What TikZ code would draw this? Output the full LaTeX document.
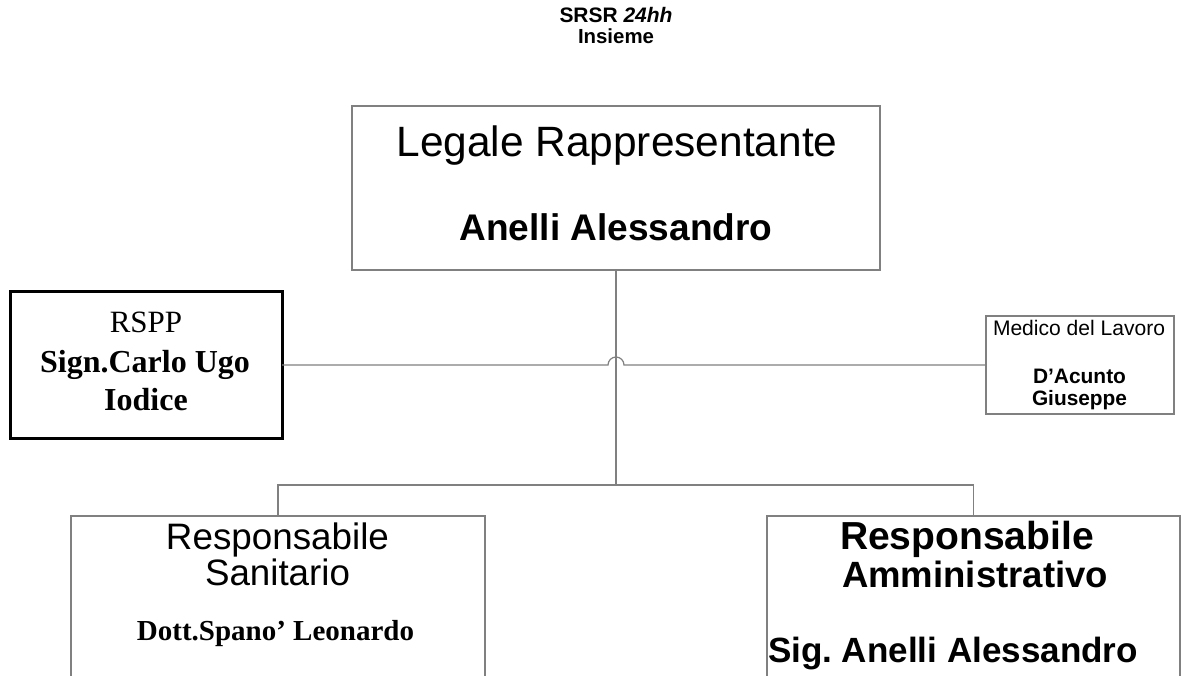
\documentclass[tikz,border=0pt]{standalone}
\usepackage{fontspec}
\usepackage{graphicx}
\setmainfont{Liberation Serif}
\setsansfont{Liberation Sans}
\frenchspacing
\newcommand\fw[3]{\resizebox{#1pt}{!}{\fontsize{#2}{#2}\selectfont #3}}
\newcommand\fs[2]{{\fontsize{#1}{#1}\selectfont #2}}
\definecolor{linegray}{RGB}{128,128,128}
\tikzset{
  box/.style={draw=linegray, line width=1.2pt, inner sep=0pt, outer sep=0pt, anchor=north west},
  boldbox/.style={draw=black, line width=3pt, inner sep=0pt, outer sep=0pt, anchor=north west},
  conn/.style={draw=linegray, line width=1.2pt},
  lbl/.style={inner sep=0pt, outer sep=0pt, anchor=base, font=\sffamily},
  slbl/.style={inner sep=0pt, outer sep=0pt, anchor=base, font=\rmfamily}
}
\begin{document}
\begin{tikzpicture}[x=1pt,y=-1pt]
\useasboundingbox[fill=white] (0,0) rectangle (1181,676);
\clip (0,0) rectangle (1181,676);
% title
\node[lbl] (t1) at (616,23) {\fw{113}{18}{\bfseries SRSR \textit{24hh}}};
\node[lbl] (t2) at (616,44) {\fw{76}{18}{\bfseries Insieme}};
% boxes
\node[box, minimum width=528pt, minimum height=164pt] (top) at (352,106) {};
\node[boldbox, minimum width=272pt, minimum height=146pt] (rspp) at (10,292) {};
\node[box, minimum width=188pt, minimum height=98pt] (med) at (986,316) {};
\node[box, minimum width=414pt, minimum height=200pt] (san) at (71,516) {};
\node[box, minimum width=413pt, minimum height=200pt] (amm) at (767,516) {};
% texts
\node[lbl] (l1) at (617,157) {\fw{441}{37}{Legale Rappresentante}};
\node[lbl] (l2) at (616,241) {\fw{313}{32}{\bfseries Anelli Alessandro}};
\node[slbl] (r1) at (146,333) {\fs{31}{RSPP}};
\node[slbl] (r2) at (145,373) {\fs{32}{\bfseries Sign.Carlo Ugo}};
\node[slbl] (r3) at (146,410) {\fs{32}{\bfseries Iodice}};
\node[lbl] (m1) at (1079,335) {\fw{172}{16.5}{Medico del Lavoro}};
\node[lbl] (m2) at (1079.5,384) {\fw{93}{17.6}{\bfseries D’Acunto}};
\node[lbl] (m3) at (1079.5,405) {\fw{95}{17.6}{\bfseries Giuseppe}};
\node[lbl] (s1) at (277.5,549) {\fw{223}{29}{Responsabile}};
\node[lbl] (s2) at (277.5,585) {\fw{145}{29}{Sanitario}};
\node[slbl] (s3) at (275.5,640) {\fs{29}{\bfseries Dott.Spano’ Leonardo}};
\node[lbl] (a1) at (967,549) {\fw{254}{27}{\bfseries Responsabile}};
\node[lbl] (a2) at (975,587) {\fw{266}{27}{\bfseries Amministrativo}};
\node[lbl] (a3) at (953,662) {\fw{370}{28}{\bfseries Sig. Anelli Alessandro}};
% connectors
\coordinate (j) at (616,485);
\coordinate (hop) at (608,365);
\draw[conn] (top.south) -- (j);
\draw[conn] (j) -| (san.north);
\draw[conn] (j) -| (amm.north);
\draw[conn] (rspp.east) -- (hop) arc[start angle=180, end angle=0, radius=8pt] -- (med.west);
\end{tikzpicture}
\end{document}
